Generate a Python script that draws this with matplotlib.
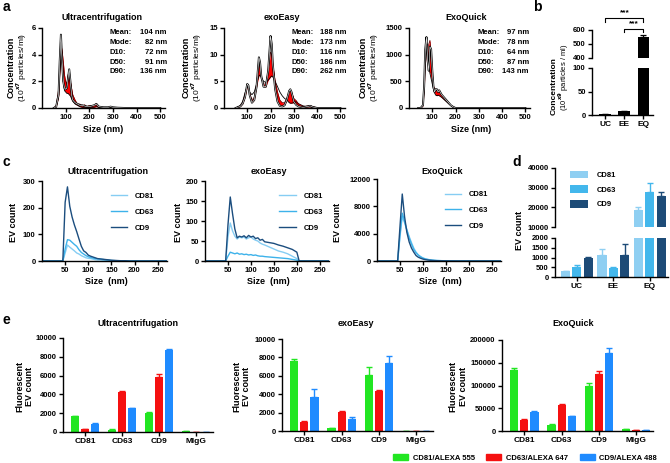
import numpy as np
import matplotlib
matplotlib.use('Agg')
import matplotlib.pyplot as plt
from matplotlib.patches import Patch

plt.rcParams['font.family'] = ['Liberation Sans', 'DejaVu Sans']
plt.rcParams['font.weight'] = 'bold'
plt.rcParams['axes.labelweight'] = 'bold'
plt.rcParams['axes.linewidth'] = 1.0
plt.rcParams['xtick.major.width'] = 1.0
plt.rcParams['ytick.major.width'] = 1.0
plt.rcParams['xtick.major.size'] = 3
plt.rcParams['ytick.major.size'] = 3
plt.rcParams['xtick.major.pad'] = 1.2
plt.rcParams['ytick.major.pad'] = 1.5
plt.rcParams['xtick.labelsize'] = 5.5
plt.rcParams['ytick.labelsize'] = 5.5

# ---- panel a: NTA size distributions (three replicate traces each) ----
sizes_uc = [50, 60, 70, 75, 80, 85, 90, 95, 100, 105, 110, 115, 120, 125, 130, 140, 150,
            160, 170, 180, 190, 200, 210, 220, 230, 240, 260, 280, 290, 300, 320, 350, 400, 500]
uc_rep1 = [0, 0.1, 1.0, 3.5, 5.5, 3.5, 2.0, 1.5, 1.4, 1.5, 2.2, 2.9, 2.0, 1.0, 0.6, 0.4, 0.3,
           0.2, 0.2, 0.15, 0.1, 0.1, 0.15, 0.2, 0.3, 0.1, 0.05, 0.05, 0.1, 0.05, 0.02, 0, 0, 0]
uc_rep2 = [0, 0.2, 1.4, 3.2, 4.8, 4.3, 3.5, 2.5, 2.0, 1.8, 2.5, 2.6, 2.0, 1.5, 1.0, 0.6, 0.3,
           0.3, 0.15, 0.25, 0.1, 0.2, 0.15, 0.2, 0.35, 0.1, 0.05, 0.02, 0.1, 0.02, 0, 0, 0, 0]
uc_rep3 = [0, 0.1, 0.8, 2.5, 3.6, 3.8, 2.0, 1.3, 1.2, 1.1, 1.1, 1.0, 0.9, 0.7, 0.5, 0.3, 0.2,
           0.1, 0.05, 0.05, 0.05, 0.05, 0.05, 0.05, 0.1, 0.05, 0.02, 0.02, 0.03, 0.01, 0, 0, 0, 0]

sizes_ee = [50, 70, 80, 90, 100, 105, 110, 120, 130, 140, 150, 155, 160, 170, 180, 190, 200, 205,
            210, 220, 230, 240, 250, 260, 270, 280, 285, 290, 300, 310, 320, 340, 360, 370, 380, 400, 500]
ee_rep1 = [0, 0.3, 0.8, 2, 4.5, 4.2, 2.5, 1.0, 1.5, 4, 9.5, 8.5, 6, 4, 4, 7, 13.5, 12,
           8, 3.5, 1.2, 0.4, 0.3, 0.5, 1.5, 3.2, 3.5, 3.0, 1.2, 0.6, 0.3, 0.1, 0.3, 0.4, 0.2, 0, 0]
ee_rep2 = [0, 0.4, 1.0, 2.5, 4.3, 4.0, 2.8, 1.5, 2.0, 4.5, 8.5, 7.5, 5.5, 4.5, 4.5, 7.0, 10.5, 10,
           8, 5, 3, 1.5, 1.0, 1.0, 1.8, 3.0, 3.3, 3.0, 1.8, 1.4, 0.8, 0.3, 0.4, 0.5, 0.3, 0.05, 0]
ee_rep3 = [0, 0.5, 1.2, 2.8, 4.0, 3.8, 3.0, 2.5, 3.0, 4.5, 6.0, 6.2, 5.8, 5.0, 4.8, 5.2, 5.8, 6.0,
           5.8, 5.0, 4.0, 3.0, 2.3, 1.8, 1.5, 1.0, 0.9, 0.9, 1.0, 1.2, 0.8, 0.4, 0.2, 0.2, 0.1, 0.05, 0]

sizes_eq = [40, 50, 60, 65, 70, 75, 80, 85, 90, 95, 100, 105, 110, 115, 120, 125, 130, 140, 150,
            160, 170, 180, 190, 200, 220, 500]
eq_rep1 = [0, 0, 50, 400, 1100, 1330, 900, 700, 1150, 1100, 700, 400, 300, 350, 350, 300, 330, 250, 200,
           150, 100, 50, 20, 0, 0, 0]
eq_rep2 = [0, 0, 40, 350, 900, 1150, 1050, 1200, 1270, 1000, 650, 420, 350, 360, 330, 340, 320, 250, 200,
           150, 90, 45, 15, 0, 0, 0]
eq_rep3 = [0, 0, 60, 300, 800, 1100, 1200, 800, 650, 550, 450, 350, 280, 240, 230, 240, 230, 200, 160,
           120, 80, 45, 20, 5, 0, 0]

stat_names = ['Mean:', 'Mode:', 'D10:', 'D50:', 'D90:']
uc_stats = ['104 nm', '82 nm', '72 nm', '91 nm', '136 nm']
ee_stats = ['188 nm', '173 nm', '116 nm', '186 nm', '262 nm']
eq_stats = ['97 nm', '78 nm', '64 nm', '87 nm', '143 nm']

# ---- panel b: particle concentration ----
b_methods = ['UC', 'EE', 'EQ']
b_conc = [1.5, 8.5, 550]
b_err = [0.3, 0.6, 15]

# ---- panel c: EV counts by size ----
sizes_c = [0, 45, 50, 55, 60, 65, 70, 75, 80, 85, 90, 95, 100, 105, 110, 115, 120, 125, 130,
           140, 150, 160, 170, 180, 190, 200, 205, 210, 270]
uc_cd81 = [0, 0, 30, 60, 52, 45, 38, 30, 26, 20, 16, 12, 10, 9, 7, 5, 4, 4, 3, 2, 1, 1, 0, 0, 0, 0, 0, 0, 0]
uc_cd63 = [0, 0, 45, 80, 78, 70, 62, 55, 42, 32, 26, 20, 16, 13, 11, 9, 8, 7, 6, 4, 2, 1, 1, 0, 0, 0, 0, 0, 0]
uc_cd9 = [0, 0, 220, 278, 205, 165, 135, 110, 82, 55, 38, 32, 22, 18, 15, 12, 9, 8, 7, 5, 3, 2, 1, 1, 0, 0, 0, 0, 0]
ee_cd81 = [0, 0, 60, 95, 75, 62, 55, 60, 58, 60, 55, 58, 60, 55, 52, 50, 45, 42, 40, 35, 30, 25, 22, 18, 12, 6, 0, 0, 0]
ee_cd63 = [0, 0, 12, 22, 20, 18, 20, 17, 18, 16, 17, 15, 16, 14, 15, 13, 12, 12, 11, 10, 9, 8, 7, 6, 4, 2, 0, 0, 0]
ee_cd9 = [0, 0, 90, 160, 118, 80, 58, 62, 60, 63, 58, 64, 60, 62, 56, 58, 52, 54, 48, 46, 44, 40, 37, 33, 29, 22, 0, 0, 0]
eq_cd81 = [0, 0, 3500, 6500, 5600, 4600, 3600, 2700, 1900, 1300, 900, 650, 450, 330, 250, 180, 130, 100, 80,
           50, 30, 20, 10, 5, 0, 0, 0, 0, 0]
eq_cd63 = [0, 0, 3800, 7000, 5800, 4500, 3400, 2500, 1700, 1200, 850, 600, 420, 300, 220, 160, 120, 90, 70,
           45, 25, 15, 8, 4, 0, 0, 0, 0, 0]
eq_cd9 = [0, 0, 5000, 9800, 6500, 4200, 2800, 1900, 1300, 800, 550, 400, 280, 200, 150, 110, 80, 60, 45,
          30, 20, 10, 5, 2, 0, 0, 0, 0, 0]

# ---- panel d: total EV counts ----
d_cd81 = [300, 1150, 18500]
d_cd81_err = [30, 300, 1500]
d_cd63 = [520, 450, 28000]
d_cd63_err = [80, 50, 4500]
d_cd9 = [1000, 1150, 26000]
d_cd9_err = [50, 550, 2000]

# ---- panel e: fluorescent EV counts ----
e_markers = ['CD81', 'CD63', 'CD9', 'MIgG']
e_uc_green = [1700, 250, 2000, 60]
e_uc_green_err = [50, 20, 80, 10]
e_uc_red = [300, 4300, 5900, 40]
e_uc_red_err = [40, 60, 300, 10]
e_uc_blue = [900, 2550, 8750, 40]
e_uc_blue_err = [40, 50, 60, 10]
e_ee_green = [7600, 350, 6100, 30]
e_ee_green_err = [200, 30, 900, 10]
e_ee_red = [1000, 2100, 4300, 20]
e_ee_red_err = [100, 50, 150, 10]
e_ee_blue = [3700, 1300, 7400, 20]
e_ee_blue_err = [900, 250, 800, 10]
e_eq_green = [135000, 14000, 98000, 5000]
e_eq_green_err = [4000, 500, 7000, 300]
e_eq_red = [25000, 57000, 125000, 3000]
e_eq_red_err = [1500, 2000, 7000, 200]
e_eq_blue = [42000, 32000, 172000, 2000]
e_eq_blue_err = [2000, 1500, 11000, 200]

C_LINE = ['#86cdf3', '#3db2ea', '#1b4d7e']
C_BAR = ['#8fcff2', '#43b7ec', '#1d4b77']
C_E = ['#22e622', '#f51010', '#1f8bff']

W, H = 670, 463
fig = plt.figure(figsize=(6.7, 4.63), dpi=100)


def box(x0, y0, x1, y1):
    return fig.add_axes([x0 / W, 1 - y1 / H, (x1 - x0) / W, (y1 - y0) / H])


def ftext(x, y, s, **kw):
    kw.setdefault('ha', 'center')
    kw.setdefault('va', 'center')
    return fig.text(x / W, 1 - y / H, s, **kw)


def clean(ax):
    ax.spines['top'].set_visible(False)
    ax.spines['right'].set_visible(False)


def nta(ax, sizes, r1, r2, r3, ymax, yticks):
    clean(ax)
    ax.fill_between(sizes, np.minimum(r1, r3), r2, color='red', lw=0)
    ax.plot(sizes, r3, color='black', lw=0.6)
    ax.plot(sizes, r2, color='#600000', lw=0.5)
    ax.plot(sizes, r1, color='black', lw=1.4)
    ax.plot(sizes, r1, color='white', lw=0.4)
    ax.set_xlim(0, 520)
    ax.set_ylim(0, ymax)
    ax.set_xticks([100, 200, 300, 400, 500])
    ax.set_yticks(yticks)


# panel a
ax = box(42, 28, 165, 108)
nta(ax, sizes_uc, uc_rep1, uc_rep2, uc_rep3, 6, [0, 2, 4, 6])
ax = box(224, 28, 345, 108)
nta(ax, sizes_ee, ee_rep1, ee_rep2, ee_rep3, 15, [0, 5, 10, 15])
ax = box(409, 28, 530, 108)
nta(ax, sizes_eq, eq_rep1, eq_rep2, eq_rep3, 1500, [0, 500, 1000, 1500])

for tx, title in [(102, 'Ultracentrifugation'), (282, 'exoEasy'), (466, 'ExoQuick')]:
    ftext(tx, 18, title, fontsize=6.5)
for tx in [103, 284, 471]:
    ftext(tx, 130, 'Size (nm)', fontsize=6.5)
for x1, x2 in [(11, 22), (186, 197), (363, 374)]:
    ftext(x1, 67, 'Concentration', fontsize=6.5, rotation=90)
    ftext(x2, 67, r'(10$^{x7}$ particles/ml)', fontsize=6, rotation=90, fontweight='normal')

rows_y = [33, 43, 52.5, 62, 71.5]
for xl, xr, vals in [(110, 167, uc_stats), (291, 346, ee_stats), (477, 529, eq_stats)]:
    for yy, nm, v in zip(rows_y, stat_names, vals):
        ftext(xl, yy, nm, fontsize=5.5, ha='left')
        ftext(xr, yy, v, fontsize=5.5, ha='right')

# panel b (broken axis)
xb = np.arange(len(b_methods))
axb_t = box(592, 30, 653, 58)
axb_b = box(592, 68, 653, 115)
for a in (axb_t, axb_b):
    clean(a)
    a.bar(xb, b_conc, width=0.62, color='black')
    a.errorbar(xb, b_conc, yerr=[np.zeros(3), b_err], fmt='none', ecolor='black',
               elinewidth=0.9, capsize=2.5, capthick=0.9)
    a.set_xlim(-0.7, 2.5)
axb_t.set_ylim(400, 600)
axb_t.set_yticks([400, 500, 600])
axb_t.spines['bottom'].set_visible(False)
axb_t.set_xticks([])
axb_b.set_ylim(0, 100)
axb_b.set_yticks([0, 50, 100])
axb_b.set_xticks(xb)
axb_b.set_xticklabels(b_methods, fontsize=6)
# significance brackets
for x0, yb, ys in [(0, 685, 725), (1, 608, 643)]:
    axb_t.plot([x0, x0, 2, 2], [yb - 25, yb, yb, yb - 25], color='black', lw=0.8, clip_on=False)
    axb_t.text((x0 + 2) / 2, ys, '***', ha='center', va='center', fontsize=6)
ftext(554, 86, 'Concentration', fontsize=6, rotation=90)
ftext(564, 77, r'(10$^{x9}$ particles / ml)', fontsize=5.5, rotation=90, fontweight='normal')


# panel c
def ev_panel(ax, s81, s63, s9, ymax, yticks, legend_anchor):
    clean(ax)
    ax.plot(sizes_c, s81, color=C_LINE[0], lw=1.0, label='CD81')
    ax.plot(sizes_c, s63, color=C_LINE[1], lw=1.0, label='CD63')
    ax.plot(sizes_c, s9, color=C_LINE[2], lw=1.0, label='CD9')
    ax.set_xlim(0, 270)
    ax.set_ylim(0, ymax)
    ax.set_xticks([50, 100, 150, 200, 250])
    ax.set_yticks(yticks)
    ax.legend(loc='upper right', bbox_to_anchor=legend_anchor, frameon=False, fontsize=5.5,
              handlelength=2.2, labelspacing=1.1, borderpad=0, handletextpad=1.0)


ax = box(42, 181, 167, 261)
ev_panel(ax, uc_cd81, uc_cd63, uc_cd9, 300, [0, 100, 200, 300], (0.93, 0.9))
ax = box(205, 181, 329, 261)
ev_panel(ax, ee_cd81, ee_cd63, ee_cd9, 200, [0, 50, 100, 150, 200], (0.98, 0.9))
ax = box(377, 179, 501, 261)
ev_panel(ax, eq_cd81, eq_cd63, eq_cd9, 12000, [0, 4000, 8000, 12000], (0.93, 0.9))

for tx, title in [(108, 'Ultracentrifugation'), (269, 'exoEasy'), (442, 'ExoQuick')]:
    ftext(tx, 171, title, fontsize=6.5)
for tx in [106, 268, 440]:
    ftext(tx, 281, 'Size  (nm)', fontsize=6.5)
for tx in [13, 178, 338]:
    ftext(tx, 222, 'EV count', fontsize=6.5, rotation=90)

# panel d (broken axis)
xd = np.arange(3)
axd_t = box(555, 168, 668, 227)
axd_b = box(555, 238, 668, 277)
for a in (axd_t, axd_b):
    clean(a)
    for k, (vals, errs) in enumerate([(d_cd81, d_cd81_err), (d_cd63, d_cd63_err), (d_cd9, d_cd9_err)]):
        pos = xd + (k - 1) * 0.31
        a.bar(pos, vals, width=0.25, color=C_BAR[k], label=['CD81', 'CD63', 'CD9'][k])
        a.errorbar(pos, vals, yerr=[np.zeros(3), errs], fmt='none', ecolor=C_BAR[k],
                   elinewidth=1.0, capsize=2.0, capthick=1.0)
    a.set_xlim(-0.6, 2.5)
axd_t.set_ylim(10000, 40000)
axd_t.set_yticks([10000, 20000, 30000, 40000])
axd_t.spines['bottom'].set_visible(False)
axd_t.set_xticks([])
axd_t.legend(loc='upper left', bbox_to_anchor=(0.1, 1.02), frameon=False, fontsize=5.5,
             handlelength=2.3, handleheight=1.2, labelspacing=0.8, handletextpad=1.2, borderpad=0)
axd_b.set_ylim(0, 2000)
axd_b.set_yticks([0, 500, 1000, 1500, 2000])
axd_b.set_xticks(xd)
axd_b.set_xticklabels(['UC', 'EE', 'EQ'], fontsize=6)
ftext(520, 230, 'EV count', fontsize=6.5, rotation=90)


# panel e
def fl_panel(ax, groups, ymax, yticks):
    clean(ax)
    xe = np.arange(len(e_markers))
    for k, (vals, errs) in enumerate(groups):
        pos = xe + (k - 1) * 0.27
        ax.bar(pos, vals, width=0.22, color=C_E[k])
        ax.errorbar(pos, vals, yerr=[np.zeros(4), errs], fmt='none', ecolor=C_E[k],
                    elinewidth=1.0, capsize=2.0, capthick=1.0)
    ax.set_xlim(-0.6, 3.45)
    ax.set_ylim(0, ymax)
    ax.set_yticks(yticks)
    ax.set_xticks(xe)
    ax.set_xticklabels(e_markers, fontsize=6)


ax = box(63, 338, 213, 432)
fl_panel(ax, [(e_uc_green, e_uc_green_err), (e_uc_red, e_uc_red_err), (e_uc_blue, e_uc_blue_err)],
         10000, [0, 2000, 4000, 6000, 8000, 10000])
ax = box(282, 339, 433, 431)
fl_panel(ax, [(e_ee_green, e_ee_green_err), (e_ee_red, e_ee_red_err), (e_ee_blue, e_ee_blue_err)],
         10000, [0, 2000, 4000, 6000, 8000, 10000])
ax = box(502, 340, 653, 431)
fl_panel(ax, [(e_eq_green, e_eq_green_err), (e_eq_red, e_eq_red_err), (e_eq_blue, e_eq_blue_err)],
         200000, [0, 50000, 100000, 150000, 200000])

for tx, title in [(138, 'Ultracentrifugation'), (356, 'exoEasy'), (573, 'ExoQuick')]:
    ftext(tx, 323, title, fontsize=6.5)
for x1, x2 in [(20, 29), (237, 247), (453, 463)]:
    ftext(x1, 386, 'Fluorescent', fontsize=6.5, rotation=90)
    ftext(x2, 386, 'EV count', fontsize=6.5, rotation=90)

handles = [Patch(color=C_E[0], label='CD81/ALEXA 555'),
           Patch(color=C_E[1], label='CD63/ALEXA 647'),
           Patch(color=C_E[2], label='CD9/ALEXA 488')]
fig.legend(handles=handles, loc='center', bbox_to_anchor=(525 / W, 1 - 458 / H), ncol=3,
           frameon=False, fontsize=5.5, handlelength=2.0, handleheight=0.9, columnspacing=1.5,
           handletextpad=0.6, borderpad=0)

# panel letters
for x, y, s in [(6, 7, 'a'), (537, 7, 'b'), (6, 162, 'c'), (517, 162, 'd'), (6, 320, 'e')]:
    ftext(x, y, s, fontsize=10)

fig.savefig('out.png', dpi=100)
